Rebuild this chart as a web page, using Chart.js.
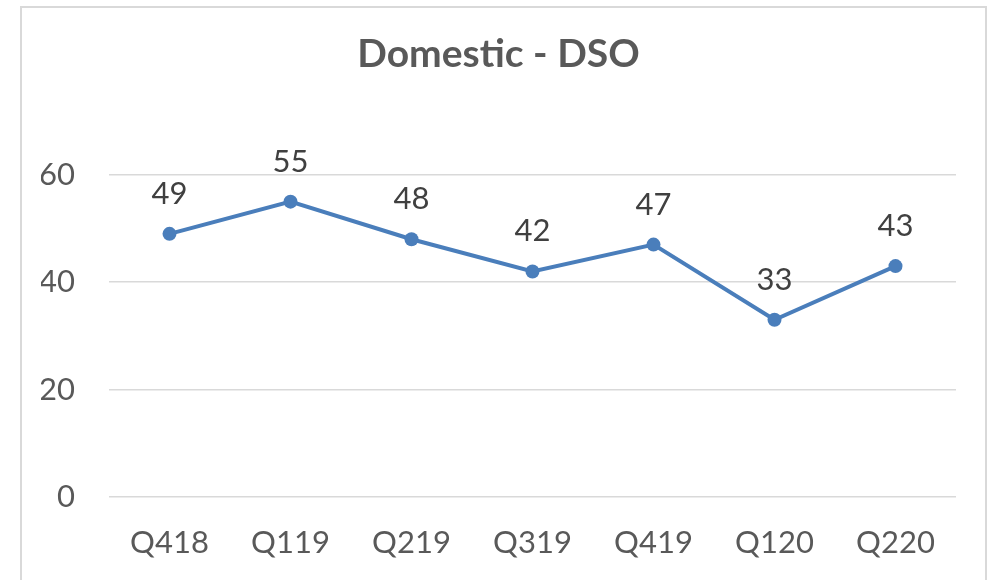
<!DOCTYPE html>
<html>
<head>
<meta charset="utf-8">
<script src="https://cdn.jsdelivr.net/npm/chart.js@4.4.1/dist/chart.umd.min.js"></script>
<style>
  html, body { margin: 0; padding: 0; background: #fff; }
  #wrap { position: relative; width: 997px; height: 580px; overflow: hidden; }
  #frame { position: absolute; left: 20px; top: 6px; width: 963px; height: 600px; border: 2px solid #d9d9d9; border-bottom: none; }
  canvas { position: absolute; left: 0; top: 0; }
</style>
</head>
<body>
<div id="wrap">
  <div id="frame"></div>
  <canvas id="result" width="997" height="580"></canvas>
</div>
<script>
"use strict";
const quarters = ["Q418", "Q119", "Q219", "Q319", "Q419", "Q120", "Q220"];
const dsoValues = [49, 55, 48, 42, 47, 33, 43];
const yTicks = [0, 20, 40, 60];

const blue = "#4a7ebb";
const gray = "#595959";

// value labels above each point
const pointLabels = {
  id: "pointLabels",
  afterDatasetsDraw(chart) {
    const ctx = chart.ctx;
    const meta = chart.getDatasetMeta(0);
    ctx.save();
    ctx.font = "31px Lato";
    ctx.fillStyle = "#404040";
    ctx.textAlign = "center";
    ctx.textBaseline = "middle";
    meta.data.forEach((pt, i) => {
      ctx.fillText(String(dsoValues[i]), pt.x, pt.y - 40);
    });
    ctx.restore();
  },
};

new Chart("result", {
  type: "line",
  data: {
    labels: quarters,
    datasets: [
      {
        data: dsoValues,
        borderColor: blue,
        backgroundColor: blue,
        borderWidth: 4,
        pointRadius: 7,
        pointBorderWidth: 0,
        lineTension: 0,
        fill: false,
        clip: false,
      },
    ],
  },
  options: {
    responsive: false,
    animation: false,
    layout: { padding: { left: 41, right: 41, top: 0, bottom: 0 } },
    plugins: {
      legend: { display: false },
      tooltip: { enabled: false },
      title: {
        display: true,
        text: "Domestic - DSO",
        color: gray,
        font: { family: "Lato", size: 39, weight: "bold", lineHeight: 1.2 },
        padding: { top: 31, bottom: 97 },
      },
    },
    scales: {
      x: {
        offset: true,
        grid: { display: false, drawTicks: false },
        border: { display: false },
        ticks: { color: gray, font: { family: "Lato", size: 31 }, padding: 27 },
        afterFit(axis) { axis.height = 83; },
      },
      y: {
        min: 0,
        max: 60,
        afterBuildTicks(axis) { axis.ticks = yTicks.map((v) => ({ value: v })); },
        grid: { color: "#d9d9d9", lineWidth: 1.5, drawTicks: false },
        border: { display: false },
        ticks: { color: gray, font: { family: "Lato", size: 31 }, padding: 34 },
        afterFit(axis) { axis.width = 68; },
      },
    },
  },
  plugins: [pointLabels],
});
</script>
</body>
</html>
